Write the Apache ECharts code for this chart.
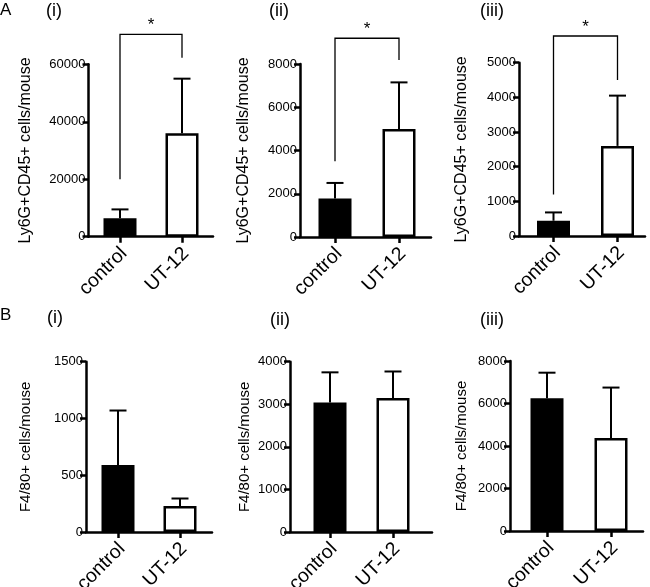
<!DOCTYPE html>
<html>
<head>
<meta charset="utf-8">
<script src="https://cdn.jsdelivr.net/npm/echarts@6/dist/echarts.min.js"></script>
<style>
html,body{margin:0;padding:0;background:#fff;}
#chart{width:650px;height:587px;}
</style>
</head>
<body>
<div id="chart"></div>
<script>
// ---------- data ----------
const categories = ['control', 'UT-12'];
const panelLetters = ['A', 'B'];
const panelNumbers = ['(i)', '(ii)', '(iii)', '(i)', '(ii)', '(iii)'];
const yTitleA = 'Ly6G+CD45+ cells/mouse';
const yTitleB = 'F4/80+ cells/mouse';

const Ai_mean = [6400, 36000];   const Ai_err = [3100, 19000];
const Aii_mean = [1780, 5000];   const Aii_err = [720, 2150];
const Aiii_mean = [440, 2600];   const Aiii_err = [240, 1450];
const Bi_mean = [590, 230];      const Bi_err = [480, 65];
const Bii_mean = [3040, 3150];   const Bii_err = [710, 620];
const Biii_mean = [6250, 4380];  const Biii_err = [1200, 2370];

const yMaxes = [60000, 8000, 5000, 1500, 4000, 8000];
const ySteps = [20000, 2000, 1000, 500, 1000, 2000];

// significance brackets: [left leg bottom, right leg bottom, bracket top]
const Ai_bracket = [20000, 62300, 70400];
const Aii_bracket = [3500, 8185, 9190];
const Aiii_bracket = [1200, 4500, 5770];
const sigMark = '*';

// ---------- layout (pixels) ----------
const layout = [
  {ax: 88.5, c1: 120,   c2: 182,   xe: 213, top: 64.3,  y0: 236.7, gap: 55},
  {ax: 300,  c1: 335,   c2: 399,   xe: 431, top: 64,    y0: 237,   gap: 48},
  {ax: 519,  c1: 553.5, c2: 617.5, xe: 645, top: 62.7,  y0: 236,   gap: 49},
  {ax: 86,   c1: 118,   c2: 180,   xe: 212, top: 361.7, y0: 532,   gap: 53},
  {ax: 290,  c1: 330,   c2: 393,   xe: 432, top: 361.7, y0: 532,   gap: 38},
  {ax: 510,  c1: 547,   c2: 611,   xe: 643, top: 361,   y0: 531,   gap: 41}
];

const means = [Ai_mean, Aii_mean, Aiii_mean, Bi_mean, Bii_mean, Biii_mean];
const errs = [Ai_err, Aii_err, Aiii_err, Bi_err, Bii_err, Biii_err];
const brackets = [Ai_bracket, Aii_bracket, Aiii_bracket, null, null, null];
const yTitles = [yTitleA, yTitleA, yTitleA, yTitleB, yTitleB, yTitleB];

const FONT = '"Liberation Sans", Arial, Helvetica, sans-serif';
const W = 650, H = 587;

const grids = [], xAxes = [], yAxes = [], series = [];

layout.forEach((L, i) => {
  const unit = L.c2 - L.c1;
  const xmin = 1 - (L.c1 - L.ax) / unit;
  const xmax = 2 + (L.xe - L.c2) / unit;
  grids.push({left: L.ax, right: W - L.xe, top: L.top, bottom: H - L.y0,
    containLabel: false, outerBoundsMode: 'none'});
  xAxes.push({
    type: 'value', gridIndex: i, min: xmin, max: xmax,
    splitLine: {show: false},
    axisLine: {show: true, onZero: false, lineStyle: {color: '#000', width: 2.5}},
    axisTick: {show: true, customValues: [1, 2], length: 6, lineStyle: {color: '#000', width: 2.5}},
    axisLabel: {
      show: true, customValues: [1, 2], rotate: 45, margin: 10,
      align: 'right', verticalAlign: 'top', lineHeight: 11,
      color: '#000', fontFamily: FONT, fontSize: 19.5,
      formatter: v => categories[Math.round(v) - 1] || ''
    }
  });
  yAxes.push({
    type: 'value', gridIndex: i, min: 0, max: yMaxes[i], interval: ySteps[i],
    splitLine: {show: false},
    axisLine: {show: true, onZero: false, lineStyle: {color: '#000', width: 2.5}},
    axisTick: {show: true, length: 6, lineStyle: {color: '#000', width: 2.5}},
    axisLabel: {color: '#000', fontFamily: FONT, fontSize: 13, margin: 3, formatter: v => String(v)},
    name: yTitles[i], nameLocation: 'middle', nameGap: L.gap, nameRotate: 90,
    nameTextStyle: {color: '#000', fontFamily: FONT, fontSize: i < 3 ? 16 : 15}
  });

  series.push({
    type: 'bar', xAxisIndex: i, yAxisIndex: i, barWidth: 33,
    data: means[i].map((m, k) => ({
      value: [k + 1, m],
      itemStyle: {color: k === 0 ? '#000' : '#fff', borderColor: '#000', borderWidth: 2.5}
    })),
    silent: true, animation: false
  });

  series.push({
    type: 'custom', xAxisIndex: i, yAxisIndex: i, clip: false, z: 5,
    data: means[i].map((m, k) => [k + 1, m, errs[i][k]]),
    renderItem: (params, api) => {
      const x = api.value(0), m = api.value(1), e = api.value(2);
      const p0 = api.coord([x, m]);
      const p1 = api.coord([x, m + e]);
      const half = 8.5;
      return {
        type: 'group', children: [
          {type: 'line', shape: {x1: p0[0], y1: p0[1], x2: p1[0], y2: p1[1]}, style: {stroke: '#000', lineWidth: 2}},
          {type: 'line', shape: {x1: p1[0] - half, y1: p1[1], x2: p1[0] + half, y2: p1[1]}, style: {stroke: '#000', lineWidth: 2}}
        ]
      };
    },
    animation: false, silent: true
  });

  if (brackets[i]) {
    series.push({
      type: 'custom', xAxisIndex: i, yAxisIndex: i, clip: false, z: 6,
      data: [brackets[i]],
      renderItem: (params, api) => {
        const lb = api.value(0), rb = api.value(1), tp = api.value(2);
        const a = api.coord([1, lb]);
        const b = api.coord([1, tp]);
        const c = api.coord([2, tp]);
        const d = api.coord([2, rb]);
        return {
          type: 'group', children: [
            {type: 'polyline', shape: {points: [a, b, c, d]}, style: {stroke: '#000', lineWidth: 1.3, fill: null}},
            {type: 'text', x: (b[0] + c[0]) / 2, y: b[1] - 9,
             style: {text: sigMark, fontFamily: FONT, fontSize: 17, fill: '#000', align: 'center', verticalAlign: 'middle'}}
          ]
        };
      },
      animation: false, silent: true
    });
  }
});

// panel labels
const labelPos = [
  {x: 46, y: 11}, {x: 269, y: 11}, {x: 480, y: 11},
  {x: 47, y: 318}, {x: 270, y: 320}, {x: 480, y: 320}
];
const graphics = [
  {type: 'text', left: 0, top: 2, style: {text: panelLetters[0], font: '17px ' + FONT, fill: '#000'}},
  {type: 'text', left: 0, top: 307, style: {text: panelLetters[1], font: '17px ' + FONT, fill: '#000'}}
];
labelPos.forEach((p, i) => {
  graphics.push({type: 'text', x: p.x, y: p.y,
    style: {text: panelNumbers[i], font: '18px ' + FONT, fill: '#000', verticalAlign: 'middle'}});
});

const chart = echarts.init(document.getElementById('chart'), null, {renderer: 'canvas'});
chart.setOption({
  backgroundColor: '#fff',
  animation: false,
  grid: grids,
  xAxis: xAxes,
  yAxis: yAxes,
  series: series,
  graphic: graphics
});
</script>
</body>
</html>
